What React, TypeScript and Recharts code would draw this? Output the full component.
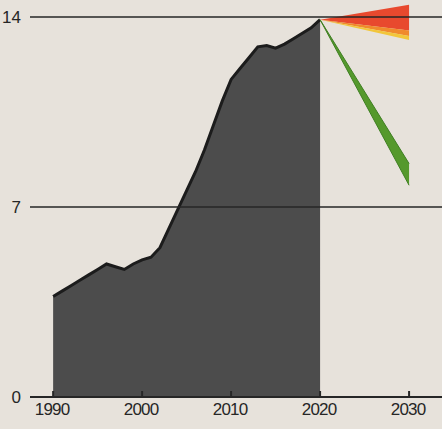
import React from "react";
import {
  ComposedChart,
  Area,
  XAxis,
  YAxis,
  ReferenceLine,
} from "recharts";

// Historical series, one value per year
const years = [
  1990, 1991, 1992, 1993, 1994, 1995, 1996, 1997, 1998, 1999, 2000, 2001,
  2002, 2003, 2004, 2005, 2006, 2007, 2008, 2009, 2010, 2011, 2012, 2013,
  2014, 2015, 2016, 2017, 2018, 2019, 2020,
];
const history = [
  3.7, 3.9, 4.1, 4.3, 4.5, 4.7, 4.9, 4.8, 4.7, 4.9, 5.05, 5.15, 5.5, 6.2,
  6.9, 7.6, 8.3, 9.1, 10.0, 10.9, 11.7, 12.1, 12.5, 12.9, 12.95, 12.85, 13.0,
  13.2, 13.4, 13.6, 13.9,
];

// Projection fans: [low, high] at 2020 and 2030
const projYears = [2020, 2030];
const redBand = [
  [13.9, 13.9],
  [13.5, 14.45],
];
const orangeBand = [
  [13.9, 13.9],
  [13.3, 13.5],
];
const yellowBand = [
  [13.9, 13.9],
  [13.15, 13.3],
];
const greenBand = [
  [13.9, 13.9],
  [7.8, 8.6],
];

const xTicks = [1990, 2000, 2010, 2020, 2030];
const yTicks = [0, 7, 14];

const rows: any[] = years.map((year, i) => ({ year, value: history[i] }));
projYears.forEach((year, i) => {
  let row = rows.find((r) => r.year === year);
  if (!row) {
    row = { year };
    rows.push(row);
  }
  row.red = redBand[i];
  row.orange = orangeBand[i];
  row.yellow = yellowBand[i];
  row.green = greenBand[i];
});

const FONT = "'Liberation Sans', Arial, sans-serif";
const INK = "#262626";

const XTick = ({ x, y, payload }: any) => (
  <g>
    <line x1={x} x2={x} y1={y} y2={y - 6} stroke={INK} strokeWidth={2} />
    <text
      x={x - 1}
      y={y + 18}
      textAnchor="middle"
      fill={INK}
      fontFamily={FONT}
      fontSize={17}
      letterSpacing={-0.8}
    >
      {payload.value}
    </text>
  </g>
);

export default function App() {
  return (
    <div
      style={{
        position: "absolute",
        left: 0,
        top: 0,
        width: 442,
        height: 429,
        background: "#e7e2db",
      }}
    >
      <ComposedChart
        width={442}
        height={429}
        data={rows}
        margin={{ top: 3.4, right: 0, left: 0, bottom: 2 }}
      >
        <XAxis
          dataKey="year"
          type="number"
          domain={[1987.4, 2033.7]}
          allowDataOverflow
          ticks={xTicks}
          height={30}
          tickSize={0}
          tickMargin={0}
          tickLine={false}
          axisLine={{ stroke: INK, strokeWidth: 2 }}
          tick={<XTick />}
        />
        <YAxis
          type="number"
          domain={[0, 14.5]}
          allowDataOverflow
          ticks={yTicks}
          width={30}
          tickSize={0}
          tickMargin={9}
          tickLine={false}
          axisLine={false}
          tick={{ fill: INK, fontSize: 17, fontFamily: FONT }}
        />
        <Area
          type="linear"
          dataKey="value"
          stroke="#1c1c1c"
          strokeWidth={3}
          fill="#4c4c4c"
          fillOpacity={1}
          isAnimationActive={false}
          dot={false}
          activeDot={false}
        />
        <Area
          type="linear"
          dataKey="red"
          stroke="none"
          fill="#e8492e"
          fillOpacity={1}
          isAnimationActive={false}
          dot={false}
          activeDot={false}
        />
        <Area
          type="linear"
          dataKey="orange"
          stroke="none"
          fill="#f08a2c"
          fillOpacity={1}
          isAnimationActive={false}
          dot={false}
          activeDot={false}
        />
        <Area
          type="linear"
          dataKey="yellow"
          stroke="none"
          fill="#f2c63a"
          fillOpacity={1}
          isAnimationActive={false}
          dot={false}
          activeDot={false}
        />
        <Area
          type="linear"
          dataKey="green"
          stroke="#3f7f22"
          strokeWidth={1}
          fill="#55992c"
          fillOpacity={1}
          isAnimationActive={false}
          dot={false}
          activeDot={false}
        />
        <ReferenceLine y={14} stroke={INK} strokeWidth={1.5} />
        <ReferenceLine y={7} stroke={INK} strokeWidth={1.5} />
      </ComposedChart>
    </div>
  );
}
